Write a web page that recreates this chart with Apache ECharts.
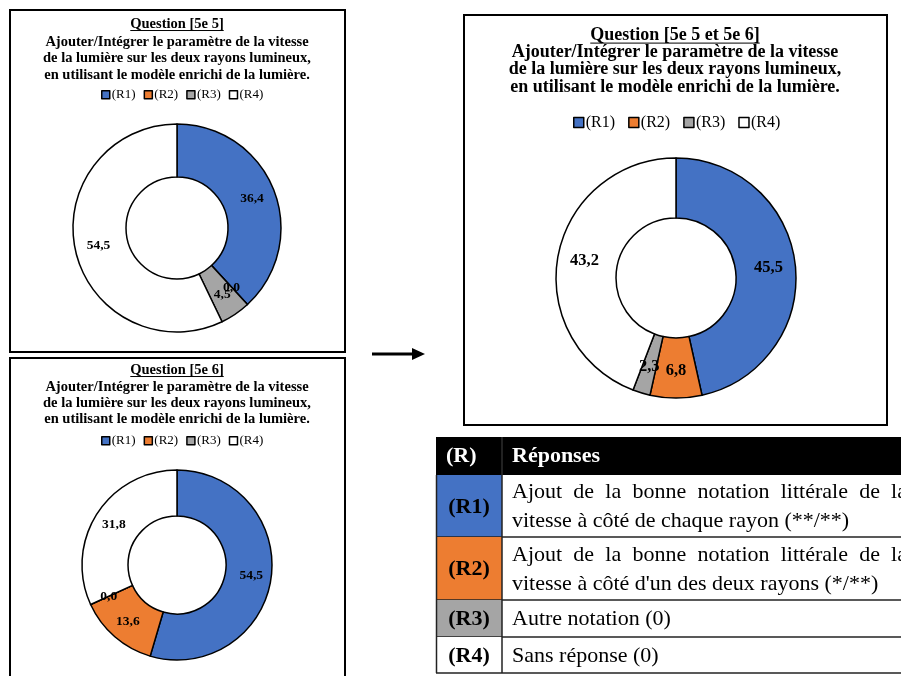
<!DOCTYPE html>
<html>
<head>
<meta charset="utf-8">
<script src="https://cdn.jsdelivr.net/npm/echarts@6/dist/echarts.min.js"></script>
<style>
  html, body { margin: 0; padding: 0; background: #fff; }
  #main { width: 901px; height: 676px; }
</style>
</head>
<body>
<div id="main"></div>
<script>
// données
const categories = ['(R1)', '(R2)', '(R3)', '(R4)'];
const q55Values = [36.4, 0.0, 4.5, 54.5];
const q56Values = [54.5, 13.6, 0.0, 31.8];
const q5556Values = [45.5, 6.8, 2.3, 43.2];
const chartTitles = ['Question [5e 5]', 'Question [5e 6]', 'Question [5e 5 et 5e 6]'];
const subtitleLines = [
  'Ajouter/Intégrer le paramètre de la vitesse',
  'de la lumière sur les deux rayons lumineux,',
  'en utilisant le modèle enrichi de la lumière.'
];
const tableHeader = ['(R)', 'Réponses'];
const tableCodes = ['(R1)', '(R2)', '(R3)', '(R4)'];
const tableAnswers = [
  ['Ajout de la bonne notation littérale de la', 'vitesse à côté de chaque rayon (**/**)'],
  ['Ajout de la bonne notation littérale de la', "vitesse à côté d'un des deux rayons (*/**)"],
  ['Autre notation (0)'],
  ['Sans réponse (0)']
];

const colors = ['#4472C4', '#ED7D31', '#A5A5A5', '#FFFFFF'];
const serif = '"Liberation Serif", "Times New Roman", serif';

// mise en page des trois cadres
const panels = [
  { values: q55Values, box: [10, 10, 335, 342], cx: 177, lineY: [24, 42, 58.5, 75], font: 14.5,
    legendX: 101, legendY: 96, legendFont: 13, icon: 8, legendGap: 8,
    center: [177, 228], radius: [51, 104], labelFont: 13.5 },
  { values: q56Values, box: [10, 358, 335, 340], cx: 177, lineY: [370, 387, 403, 419.5], font: 14.5,
    legendX: 101, legendY: 442, legendFont: 13, icon: 8, legendGap: 8,
    center: [177, 565], radius: [49, 95], labelFont: 13.5 },
  { values: q5556Values, box: [464, 15, 423, 410], cx: 675, lineY: [35, 52.5, 69.5, 87], font: 18,
    legendX: 573, legendY: 124, legendFont: 16, icon: 10, legendGap: 13,
    center: [676, 278], radius: [60, 120], labelFont: 16.5 }
];

const ctx = document.createElement('canvas').getContext('2d');
function textWidth(txt, font) {
  ctx.font = font;
  return ctx.measureText(txt).width;
}
function fmt(v) {
  return v.toFixed(1).replace('.', ',');
}

const graphics = [];
const legends = [];
const series = [];

panels.forEach(function (p, i) {
  graphics.push({
    type: 'rect', silent: true,
    shape: { x: p.box[0], y: p.box[1], width: p.box[2], height: p.box[3] },
    style: { fill: 'none', stroke: '#000', lineWidth: 2 }
  });
  const titleFont = 'bold ' + p.font + 'px ' + serif;
  const lines = [chartTitles[i]].concat(subtitleLines);
  lines.forEach(function (line, k) {
    graphics.push({
      type: 'text', silent: true, x: p.cx, y: p.lineY[k],
      style: { text: line, font: titleFont, fill: '#000', textAlign: 'center', textVerticalAlign: 'middle' }
    });
  });
  const w = textWidth(chartTitles[i], titleFont);
  graphics.push({
    type: 'line', silent: true,
    shape: { x1: p.cx - w / 2, y1: p.lineY[0] + p.font * 0.45, x2: p.cx + w / 2, y2: p.lineY[0] + p.font * 0.45 },
    style: { stroke: '#000', lineWidth: 1 }
  });

  legends.push({
    data: categories,
    left: p.legendX,
    top: p.legendY - p.legendFont * 0.6,
    padding: 0,
    icon: 'rect',
    itemWidth: p.icon,
    itemHeight: p.icon,
    itemGap: p.legendGap,
    selectedMode: false,
    itemStyle: { borderColor: '#000', borderWidth: 1.5 },
    textStyle: { fontFamily: serif, fontSize: p.legendFont, color: '#000', padding: [0, 0, 0, -3] }
  });

  series.push({
    type: 'pie',
    center: p.center,
    radius: p.radius,
    startAngle: 90,
    clockwise: true,
    silent: true,
    avoidLabelOverlap: false,
    labelLayout: { hideOverlap: false },
    itemStyle: { borderColor: '#000', borderWidth: 1.5 },
    label: {
      show: true,
      position: 'inside',
      color: '#000',
      fontFamily: serif,
      fontWeight: 'bold',
      fontSize: p.labelFont,
      formatter: function (d) { return fmt(d.value); }
    },
    labelLine: { show: false },
    emphasis: { disabled: true },
    data: categories.map(function (c, j) {
      return { name: c, value: p.values[j], itemStyle: { color: colors[j] } };
    })
  });
});

// flèche entre les graphiques
graphics.push({
  type: 'line', silent: true,
  shape: { x1: 372, y1: 354, x2: 414, y2: 354 },
  style: { stroke: '#000', lineWidth: 3 }
});
graphics.push({
  type: 'polygon', silent: true,
  shape: { points: [[412, 348], [425, 354], [412, 360]] },
  style: { fill: '#000' }
});

// tableau des réponses
const tx0 = 436, tx1 = 502, tx2 = 905;
const rowY = [437, 475, 537, 600, 637, 673];
const cellFont = '22px ' + serif;
const boldFont = 'bold 22px ' + serif;
const textLeft = 512, justifyRight = 907;

// texte justifié : mots répartis sur la largeur de la cellule
function pushLine(line, y, justify) {
  if (!justify) {
    graphics.push({
      type: 'text', silent: true, x: textLeft, y: y,
      style: { text: line, font: cellFont, fill: '#000', textVerticalAlign: 'middle' }
    });
    return;
  }
  const words = line.split(' ');
  const widths = words.map(function (wd) { return textWidth(wd, cellFont); });
  const total = widths.reduce(function (a, b) { return a + b; }, 0);
  const gap = (justifyRight - textLeft - total) / (words.length - 1);
  let x = textLeft;
  words.forEach(function (wd, k) {
    graphics.push({
      type: 'text', silent: true, x: x, y: y,
      style: { text: wd, font: cellFont, fill: '#000', textVerticalAlign: 'middle' }
    });
    x += widths[k] + gap;
  });
}

graphics.push({
  type: 'rect', silent: true,
  shape: { x: tx0, y: rowY[0], width: tx2 - tx0, height: rowY[1] - rowY[0] },
  style: { fill: '#000' }
});
graphics.push({
  type: 'text', silent: true, x: 446, y: (rowY[0] + rowY[1]) / 2,
  style: { text: tableHeader[0], font: boldFont, fill: '#fff', textVerticalAlign: 'middle' }
});
graphics.push({
  type: 'text', silent: true, x: textLeft, y: (rowY[0] + rowY[1]) / 2,
  style: { text: tableHeader[1], font: boldFont, fill: '#fff', textVerticalAlign: 'middle' }
});
tableCodes.forEach(function (code, r) {
  const y0 = rowY[r + 1], y1 = rowY[r + 2];
  graphics.push({
    type: 'rect', silent: true,
    shape: { x: tx0, y: y0, width: tx1 - tx0, height: y1 - y0 },
    style: { fill: colors[r] }
  });
  graphics.push({
    type: 'text', silent: true, x: (tx0 + tx1) / 2, y: (y0 + y1) / 2 + 1,
    style: { text: code, font: boldFont, fill: '#000', textAlign: 'center', textVerticalAlign: 'middle' }
  });
  const lines = tableAnswers[r];
  const mid = (y0 + y1) / 2 + 1;
  lines.forEach(function (line, k) {
    pushLine(line, mid + (k - (lines.length - 1) / 2) * 29, k < lines.length - 1);
  });
  graphics.push({
    type: 'line', silent: true,
    shape: { x1: tx0, y1: y1, x2: tx2, y2: y1 },
    style: { stroke: '#222', lineWidth: 1.5 }
  });
});
graphics.push({
  type: 'line', silent: true,
  shape: { x1: tx0 + 0.5, y1: rowY[1], x2: tx0 + 0.5, y2: rowY[5] },
  style: { stroke: '#222', lineWidth: 1.5 }
});
graphics.push({
  type: 'line', silent: true,
  shape: { x1: tx1, y1: rowY[1], x2: tx1, y2: rowY[5] },
  style: { stroke: '#222', lineWidth: 1.5 }
});
graphics.push({
  type: 'line', silent: true,
  shape: { x1: tx1, y1: rowY[0], x2: tx1, y2: rowY[1] },
  style: { stroke: '#444', lineWidth: 1 }
});

const chart = echarts.init(document.getElementById('main'));
chart.setOption({
  backgroundColor: '#fff',
  animation: false,
  legend: legends,
  series: series,
  graphic: graphics
});
</script>
</body>
</html>
